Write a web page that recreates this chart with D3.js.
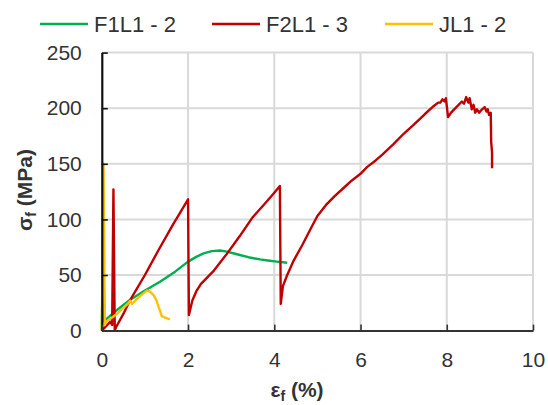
<!DOCTYPE html>
<html>
<head>
<meta charset="utf-8">
<title>Flexural stress-strain</title>
<script src="https://d3js.org/d3.v7.min.js"></script>
<style>
body { margin: 0; background: #fff; }
svg text { font-family: "Liberation Sans", Arial, sans-serif; fill: #333; }
</style>
</head>
<body>
<div id="chart"></div>
<script>
// tick values
var xTicks = [0, 2, 4, 6, 8, 10];
var yTicks = [0, 50, 100, 150, 200, 250];

// series names
var seriesNames = ["F1L1 - 2", "F2L1 - 3", "JL1 - 2"];

// F1L1 - 2 (strain %, stress MPa)
var f1Strain = [0, 0.03, 0.06, 0.1, 0.3, 0.5, 0.65, 1.0, 1.35, 1.7, 2.0, 2.2, 2.36, 2.55, 2.74, 2.9, 3.0, 3.2, 3.4, 3.67, 3.85, 4.06, 4.3];
var f1Stress = [0, 84, 8, 10, 17, 23, 27.5, 36, 44, 53, 62, 66.5, 69.5, 71.5, 72, 71, 70, 68, 66, 64, 63, 62, 61];

// F2L1 - 3
var f2Strain = [0, 0.1, 0.2, 0.24, 0.27, 0.3, 0.33, 0.5, 0.65, 1.0, 1.31, 1.66, 1.8, 2.0,
  2.02, 2.1, 2.2, 2.3, 2.6, 2.9, 3.2, 3.5, 3.8, 4.0, 4.13,
  4.15, 4.2, 4.3, 4.45, 4.65, 4.85, 5.0, 5.2, 5.4, 5.6, 5.8, 6.0, 6.15, 6.35, 6.5, 6.77, 7.0, 7.23, 7.5, 7.7, 7.8, 7.85, 7.9, 7.95, 7.98,
  8.03, 8.1, 8.2, 8.35, 8.4, 8.45, 8.5, 8.53, 8.58, 8.62, 8.66, 8.7, 8.75, 8.82, 8.88, 8.92, 8.95, 8.98, 9.02, 9.03, 9.05, 9.05];
var f2Stress = [0, 4, 8, 5, 127, 0, 3, 15, 27, 50, 72, 96, 105, 118,
  14, 27, 36, 42, 54, 69, 85, 102, 115, 124, 130,
  24, 40, 50, 63, 77, 92, 103, 113, 121, 128, 135, 141, 147, 153, 158, 168, 177, 185, 195, 202, 205, 205, 208, 206, 209,
  192, 196, 200, 206, 204, 210, 205, 209, 199, 203, 196, 199, 196, 199, 201, 197, 199, 194, 196, 170, 160, 146];

// JL1 - 2
var jStrain = [0, 0.04, 0.07, 0.1, 0.35, 0.6, 0.66, 0.7, 0.8, 0.95, 1.05, 1.12, 1.2, 1.27, 1.31, 1.35, 1.39, 1.45, 1.52, 1.58];
var jStress = [0, 150, 5, 8, 15, 24, 27, 24, 28, 33, 36, 35, 32, 27, 22, 18, 13, 12, 11, 10];

var colors = ["#00b050", "#c00000", "#ffc000"];

var margin = {top: 52.6, left: 101.8},
    W = 548, H = 405,
    width = 533 - margin.left,
    height = 330.6 - margin.top;

var svg = d3.select("#chart").append("svg")
    .attr("width", W)
    .attr("height", H);

var g = svg.append("g")
    .attr("transform", "translate(" + margin.left + "," + margin.top + ")");

var x = d3.scaleLinear().domain([0, 10]).range([0, width]);
var y = d3.scaleLinear().domain([0, 250]).range([height, 0]);

// gridlines drawn as one path
var gp = d3.path();
yTicks.slice(1).forEach(function(d) {
  gp.moveTo(0, y(d));
  gp.lineTo(width, y(d));
});
xTicks.slice(1).forEach(function(d) {
  gp.moveTo(x(d), 0);
  gp.lineTo(x(d), height);
});
g.append("path")
    .attr("class", "grid")
    .attr("d", gp.toString())
    .attr("fill", "none")
    .attr("stroke", "#d9d9d9")
    .attr("stroke-width", 2);

// series lines
var line = d3.line()
    .x(function(d) { return x(d[0]); })
    .y(function(d) { return y(d[1]); });

var series = [
  d3.zip(f1Strain, f1Stress),
  d3.zip(f2Strain, f2Stress),
  d3.zip(jStrain, jStress)
];

g.selectAll(".series")
    .data(series)
    .enter().append("path")
    .attr("class", "series")
    .attr("d", line)
    .attr("fill", "none")
    .attr("stroke", function(d, i) { return colors[i]; })
    .attr("stroke-width", 2.4)
    .attr("stroke-linejoin", "round");

// axes
var yAxis = g.append("g")
    .call(d3.axisLeft(y).tickValues(yTicks).tickSize(-6).tickSizeOuter(0).tickPadding(20));
var xAxis = g.append("g")
    .attr("transform", "translate(0," + height + ")")
    .call(d3.axisBottom(x).tickValues(xTicks).tickSize(-6).tickSizeOuter(0).tickPadding(21));

yAxis.select(".domain").attr("stroke", "#111").attr("stroke-width", 2.2);
xAxis.select(".domain").attr("stroke", "#333").attr("stroke-width", 2);
yAxis.selectAll(".tick line").attr("stroke", "#111").attr("stroke-width", 1.6);
xAxis.selectAll(".tick line").attr("stroke", "#333").attr("stroke-width", 1.6);
svg.selectAll(".tick text").attr("font-size", 21).attr("fill", "#333")
    .style("font-family", "'Liberation Sans', Arial, sans-serif");

// axis titles
var xt = svg.append("text")
    .attr("x", 297)
    .attr("y", 397)
    .attr("text-anchor", "middle")
    .attr("font-size", 21)
    .attr("font-weight", "bold");
xt.append("tspan").text("ε");
xt.append("tspan").attr("font-size", 14).attr("dy", 4).text("f");
xt.append("tspan").attr("dy", -4).text(" (%)");

var yt = svg.append("text")
    .attr("transform", "translate(32,190) rotate(-90)")
    .attr("text-anchor", "middle")
    .attr("font-size", 21)
    .attr("font-weight", "bold");
yt.append("tspan").text("σ");
yt.append("tspan").attr("font-size", 14).attr("dy", 4).text("f");
yt.append("tspan").attr("dy", -4).text(" (MPa)");

// legend
var legendX = [40, 212, 385];
var legend = svg.selectAll(".legend")
    .data(seriesNames)
    .enter().append("g")
    .attr("class", "legend")
    .attr("transform", function(d, i) { return "translate(" + legendX[i] + ",24)"; });
legend.append("line")
    .attr("x1", 0).attr("x2", 48)
    .attr("stroke", function(d, i) { return colors[i]; })
    .attr("stroke-width", 2.4);
legend.append("text")
    .attr("x", 54)
    .attr("y", 8)
    .attr("font-size", 22)
    .text(function(d) { return d; });
</script>
</body>
</html>
